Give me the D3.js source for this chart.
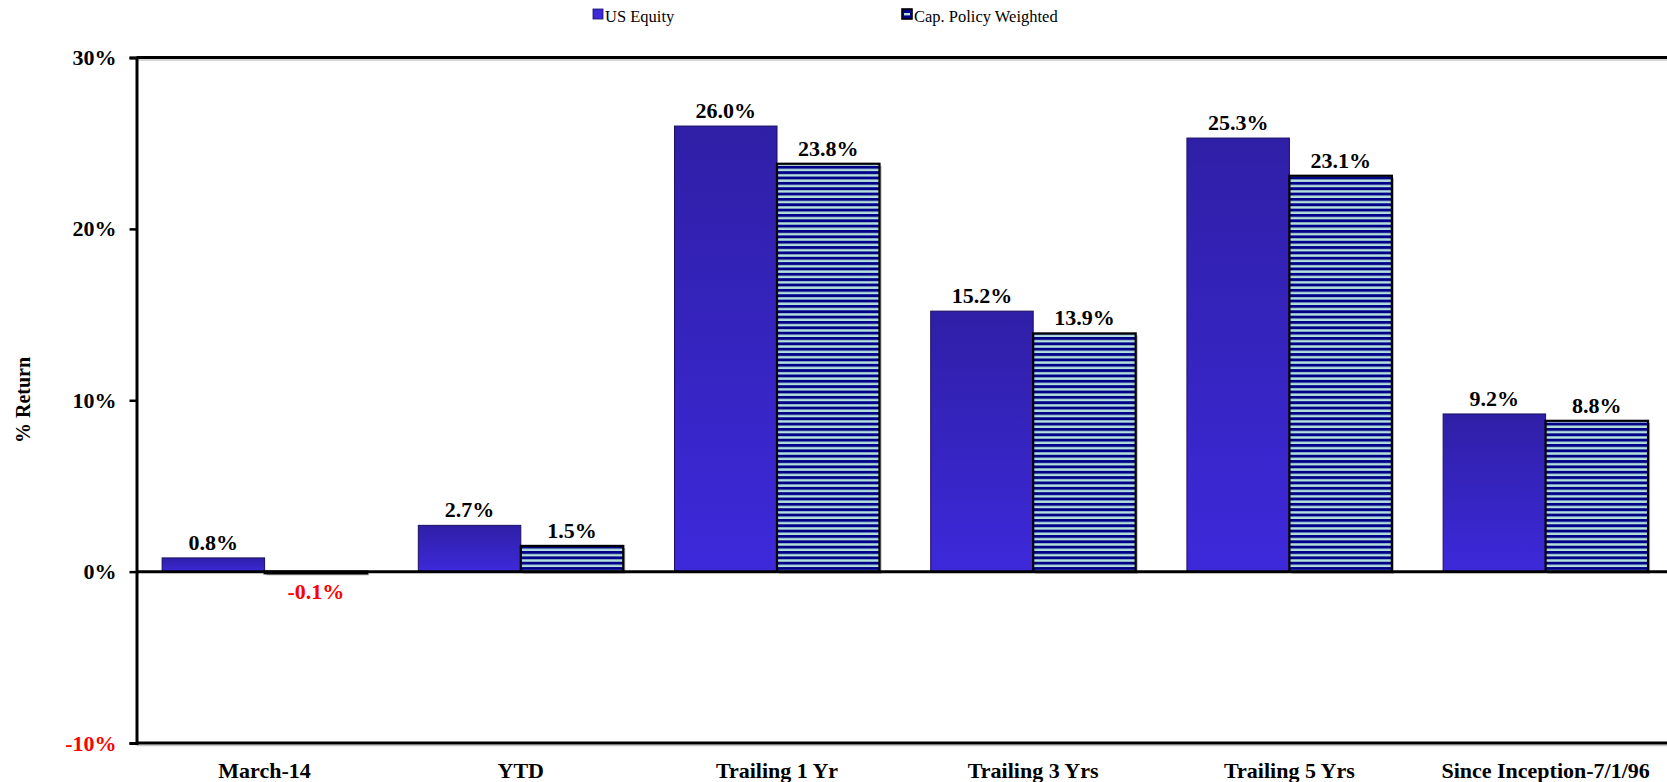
<!DOCTYPE html>
<html>
<head>
<meta charset="utf-8">
<script src="https://cdn.jsdelivr.net/npm/d3@7"></script>
<style>
  body { margin: 0; background: #fff; }
  svg text { font-family: "Liberation Serif", "Times New Roman", Times, serif; }
</style>
</head>
<body>
<svg id="chart" width="1667" height="782"></svg>
<script>
// chart data
const categories = ["March-14", "YTD", "Trailing 1 Yr", "Trailing 3 Yrs", "Trailing 5 Yrs", "Since Inception-7/1/96"];
const seriesNames = ["US Equity", "Cap. Policy Weighted"];
const usEquity = [0.8, 2.7, 26.0, 15.2, 25.3, 9.2];
const capPolicy = [-0.1, 1.5, 23.8, 13.9, 23.1, 8.8];
const yTicks = [-10, 0, 10, 20, 30];

const width = 1667;
const height = 782;
const serif = "Liberation Serif";
const plot = { left: 136.5, top: 57.5, bottom: 743, step: 256.2 };

const svg = d3.select("#chart");
const defs = svg.append("defs");

// gradient used for the US Equity bars
const grad = defs.append("linearGradient")
    .attr("id", "eqGrad")
    .attr("x1", 0).attr("y1", 0).attr("x2", 0).attr("y2", 1);
grad.append("stop").attr("offset", "0%").attr("stop-color", "#2f1fa6");
grad.append("stop").attr("offset", "100%").attr("stop-color", "#3d29da");

// horizontal stripes for the policy bars
const pat = defs.append("pattern")
    .attr("id", "stripes")
    .attr("patternUnits", "userSpaceOnUse")
    .attr("width", 10).attr("height", 5.35);
pat.append("rect").attr("width", 10).attr("height", 5.35).attr("fill", "#b4e0dc");
pat.append("rect").attr("width", 10).attr("height", 2.9).attr("fill", "#000088");

const x = d3.scaleBand()
    .domain(categories)
    .range([plot.left, plot.left + 6 * plot.step])
    .paddingInner(0.2)
    .paddingOuter(0.1);

const xSub = d3.scaleBand()
    .domain(seriesNames)
    .range([0, x.bandwidth()]);

const y = d3.scaleLinear()
    .domain([-10, 30])
    .range([plot.bottom, plot.top]);

// frame lines: top and bottom, with a faint shadow
[30, -10].forEach(function(v) {
    svg.append("line")
        .attr("x1", plot.left).attr("x2", width)
        .attr("y1", y(v) + 2.5).attr("y2", y(v) + 2.5)
        .attr("stroke", "#c8c8c8").attr("stroke-width", 1.5);
    svg.append("line")
        .attr("x1", plot.left).attr("x2", width)
        .attr("y1", y(v)).attr("y2", y(v))
        .attr("stroke", "#000").attr("stroke-width", 3);
});

const rows = categories.map(function(c, i) {
    return { cat: c, vals: [usEquity[i], capPolicy[i]] };
});

const groups = svg.selectAll("g.grp")
    .data(rows)
    .enter().append("g")
    .attr("class", "grp")
    .attr("transform", d => "translate(" + x(d.cat) + ",0)");

const barData = d => d.vals.map((v, k) => ({ name: seriesNames[k], v: v }));

// grey shadow behind the striped bars
groups.selectAll("rect.shadow")
    .data(d => barData(d).filter(b => b.name === seriesNames[1]))
    .enter().append("rect")
    .attr("class", "shadow")
    .attr("x", d => xSub(d.name) + 2)
    .attr("width", xSub.bandwidth())
    .attr("y", d => y(Math.max(0, d.v)) + 2)
    .attr("height", d => Math.max(1.5, Math.abs(y(d.v) - y(0))))
    .attr("fill", "#b0b0b0");

groups.selectAll("rect.bar")
    .data(barData)
    .enter().append("rect")
    .attr("class", "bar")
    .attr("x", d => xSub(d.name))
    .attr("width", xSub.bandwidth())
    .attr("y", d => y(Math.max(0, d.v)))
    .attr("height", d => Math.max(1.5, Math.abs(y(d.v) - y(0))))
    .attr("fill", d => d.name === seriesNames[0] ? "url(#eqGrad)" : "url(#stripes)")
    .attr("stroke", d => d.name === seriesNames[0] ? "#1a0f60" : "#000")
    .attr("stroke-width", d => d.name === seriesNames[0] ? 1 : 2.2);

groups.selectAll("text.val")
    .data(barData)
    .enter().append("text")
    .attr("class", "val")
    .attr("x", d => xSub(d.name) + xSub.bandwidth() / 2)
    .attr("y", d => d.v >= 0 ? y(d.v) - 8 : y(0) + 27)
    .attr("text-anchor", "middle")
    .attr("font-family", serif)
    .attr("font-size", 22)
    .attr("font-weight", "bold")
    .attr("fill", d => d.v < 0 ? "#ff0000" : "#000")
    .text(d => d.v.toFixed(1) + "%");

// zero line
svg.append("line")
    .attr("x1", plot.left).attr("x2", width)
    .attr("y1", y(0)).attr("y2", y(0))
    .attr("stroke", "#000").attr("stroke-width", 3);

// y axis
const yAxis = svg.append("g")
    .attr("transform", "translate(" + plot.left + ",0)")
    .call(d3.axisLeft(y).tickValues(yTicks).tickSize(7).tickPadding(13)
        .tickFormat(d => d + "%"));
yAxis.attr("font-family", serif);
yAxis.select(".domain").attr("stroke-width", 3);
yAxis.selectAll(".tick line").attr("stroke-width", 2.5);
yAxis.selectAll(".tick text")
    .attr("font-family", serif)
    .attr("font-size", 22)
    .attr("font-weight", "bold")
    .attr("fill", d => d < 0 ? "#ff0000" : "#000");

// category labels
svg.selectAll("text.cat")
    .data(categories)
    .enter().append("text")
    .attr("class", "cat")
    .attr("x", d => x(d) + x.bandwidth() / 2)
    .attr("y", 778)
    .attr("text-anchor", "middle")
    .attr("font-family", serif)
    .attr("font-size", 22)
    .attr("font-weight", "bold")
    .text(d => d);

// y title
svg.append("text")
    .attr("transform", "translate(30,400) rotate(-90)")
    .attr("text-anchor", "middle")
    .attr("font-family", serif)
    .attr("font-size", 20)
    .attr("font-weight", "bold")
    .text("% Return");

// legend
const legendX = [593, 902];
seriesNames.forEach(function(name, k) {
    const g = svg.append("g").attr("transform", "translate(" + legendX[k] + ",9)");
    if (k === 0) {
        g.append("rect").attr("width", 10).attr("height", 10)
            .attr("fill", "#3d29da").attr("stroke", "#1a0f60").attr("stroke-width", 0.8);
    } else {
        g.append("rect").attr("width", 10).attr("height", 10)
            .attr("fill", "#000088").attr("stroke", "#000").attr("stroke-width", 1.6);
        g.append("rect").attr("x", 2).attr("y", 4).attr("width", 6).attr("height", 2.4)
            .attr("fill", "#b4e0dc");
    }
    g.append("text").attr("x", 12).attr("y", 12.5)
        .attr("font-family", serif)
        .attr("font-size", 16.5)
        .text(name);
});
</script>
</body>
</html>
